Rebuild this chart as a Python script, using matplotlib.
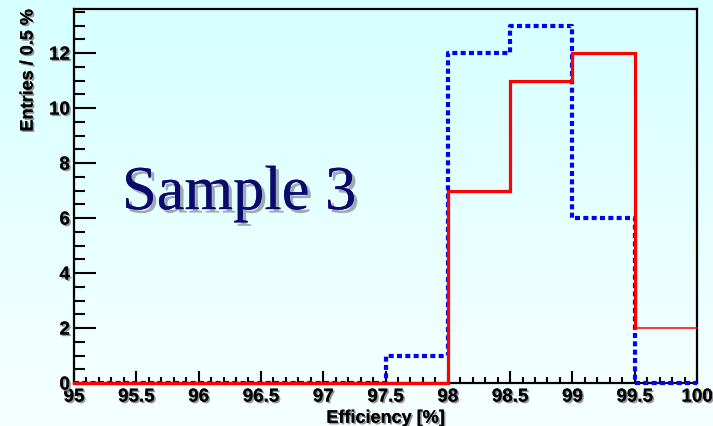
import numpy as np
import matplotlib
matplotlib.use("Agg")
import matplotlib.pyplot as plt
import matplotlib.patheffects as pe
from matplotlib.ticker import MultipleLocator, FixedLocator, FixedFormatter

# Histogram binning (efficiency in %, 0.5 % bins)
bin_edges = [95.0, 95.5, 96.0, 96.5, 97.0, 97.5, 98.0, 98.5, 99.0, 99.5, 100.0]
red_counts = [0, 0, 0, 0, 0, 0, 7, 11, 12, 2]
blue_counts = [0, 0, 0, 0, 0, 1, 12, 13, 6, 0]

x_ticks = [95, 95.5, 96, 96.5, 97, 97.5, 98, 98.5, 99, 99.5, 100]
x_tick_labels = ["95", "95.5", "96", "96.5", "97", "97.5", "98", "98.5", "99", "99.5", "100"]
y_ticks = [0, 2, 4, 6, 8, 10, 12]
y_tick_labels = ["0", "2", "4", "6", "8", "10", "12"]

W, H = 713, 426
fig = plt.figure(figsize=(W / 100, H / 100), dpi=100)

# light cyan vertical gradient behind everything
bg = fig.add_axes([0, 0, 1, 1], zorder=-10)
top = np.array([214, 255, 255]) / 255
bot = np.array([247, 255, 255]) / 255
t = np.linspace(0, 1, 256)[:, None]
grad = top[None, None, :] * (1 - t[..., None]) + bot[None, None, :] * t[..., None]
grad = np.repeat(grad, 4, axis=1)
bg.imshow(grad, aspect="auto", extent=[0, 1, 0, 1])
bg.axis("off")

L, R, T, B = 74, 697, 9, 383
ax = fig.add_axes([L / W, 1 - B / H, (R - L) / W, (B - T) / H])
ax.patch.set_alpha(0)

def steps(edges, vals):
    xs = np.repeat(np.asarray(edges, float), 2)[1:-1]
    ys = np.repeat(np.asarray(vals, float), 2)
    return xs, ys

bx, by = steps(bin_edges, blue_counts)
rx, ry = steps(bin_edges, red_counts)

ax.plot(bx, by, color="#0000ff", lw=3.0, ls=(0, (1.2, 0.8)),
        solid_capstyle="butt", dash_capstyle="butt", zorder=3, clip_on=False)
ax.plot(rx[:-1], ry[:-1], color="#ff0000", lw=2.3, zorder=4,
        solid_joinstyle="miter", clip_on=False)
ax.plot(rx[-2:], ry[-2:], color="#ff0000", lw=1.1, zorder=4, clip_on=False)

ax.set_xlim(95, 100)
ax.set_ylim(0, 13.6)

shadow = [pe.withSimplePatchShadow(offset=(1.2, -1.2), shadow_rgbFace="#888888", alpha=0.9),
          pe.Normal()]
tick_font = dict(family="Liberation Sans", weight="bold", size=13.5)

ax.xaxis.set_major_locator(FixedLocator(x_ticks))
ax.xaxis.set_major_formatter(FixedFormatter(x_tick_labels))
ax.xaxis.set_minor_locator(MultipleLocator(0.1))
ax.yaxis.set_major_locator(FixedLocator(y_ticks))
ax.yaxis.set_major_formatter(FixedFormatter(y_tick_labels))
ax.yaxis.set_minor_locator(MultipleLocator(0.5))

ax.tick_params(axis="both", which="both", direction="in", top=False, right=False,
               color="black", width=1.5)
ax.tick_params(axis="x", which="major", length=9, pad=4)
ax.tick_params(axis="x", which="minor", length=4.5)
ax.tick_params(axis="y", which="major", length=16, pad=3)
ax.tick_params(axis="y", which="minor", length=8)

for lab in ax.get_xticklabels() + ax.get_yticklabels():
    lab.set_fontproperties(matplotlib.font_manager.FontProperties(**tick_font))
    lab.set_path_effects(shadow)

for s in ax.spines.values():
    s.set_linewidth(1.6)
    s.set_color("black")

label_font = dict(family="Liberation Sans", weight="bold", size=13)
ax.set_xlabel("Efficiency [%]", fontdict=label_font, labelpad=3, path_effects=shadow)
ax.set_ylabel("Entries / 0.5 %", fontdict=label_font, loc="top", labelpad=9,
              path_effects=shadow)

ax.text(0.077, 0.465, "Sample 3", transform=ax.transAxes, ha="left", va="baseline",
        family="Liberation Serif", size=45, color="#0a0a6e",
        path_effects=[pe.withSimplePatchShadow(offset=(2.5, -2.5), shadow_rgbFace="#9aa0b0", alpha=0.9),
                      pe.Normal()], zorder=6)

fig.savefig("out.png", dpi=100)
